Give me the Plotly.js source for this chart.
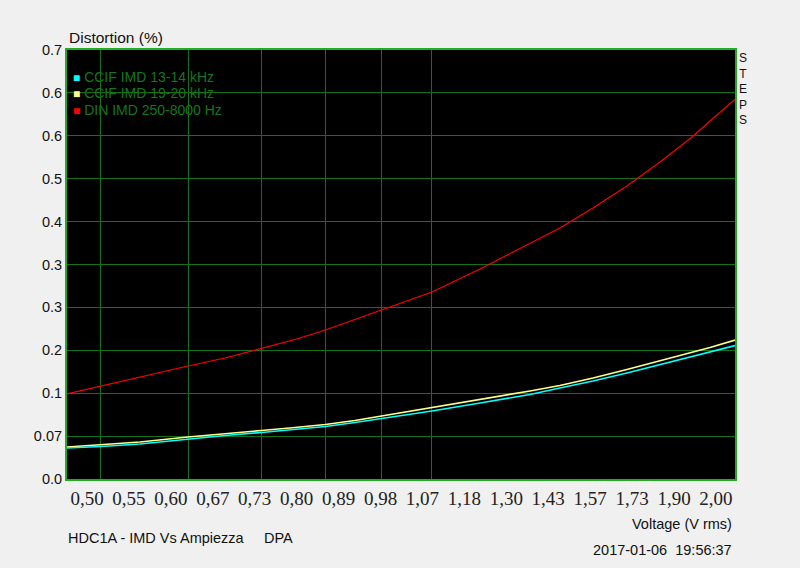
<!DOCTYPE html>
<html>
<head>
<meta charset="utf-8">
<script src="https://cdn.plot.ly/plotly-3.0.1.min.js"></script>
<style>html,body{margin:0;padding:0;background:#f0f0f0;}#chart{width:800px;height:568px;}</style>
</head>
<body>
<div id="chart"></div>
<script>
// ---- data ----
const seriesNames = ['CCIF IMD 13-14 kHz', 'CCIF IMD 19-20 kHz', 'DIN IMD 250-8000 Hz'];
const voltage = [0.4656, 0.5, 0.5425, 0.600, 0.6482, 0.7, 0.7506, 0.8, 0.851, 0.9, 1.0, 1.106, 1.228, 1.307, 1.401, 1.504, 1.612, 1.724, 1.790, 1.886];
const ccif1314 = [0.0506, 0.0530, 0.0571, 0.0653, 0.0710, 0.0759, 0.0808, 0.0857, 0.0922, 0.0987, 0.1110, 0.1240, 0.1379, 0.1485, 0.1599, 0.1730, 0.1865, 0.2007, 0.2077, 0.2178];
const ccif1920 = [0.0522, 0.0555, 0.0604, 0.0685, 0.0734, 0.0791, 0.0840, 0.0889, 0.0955, 0.1028, 0.1159, 0.1289, 0.1436, 0.1526, 0.1648, 0.1787, 0.1934, 0.2064, 0.2146, 0.2268];
const dinImd = [0.1387, 0.1517, 0.1664, 0.1844, 0.1974, 0.2129, 0.2276, 0.2431, 0.2603, 0.2758, 0.3051, 0.3427, 0.3843, 0.4096, 0.4422, 0.4781, 0.5172, 0.5580, 0.5841, 0.6192];
const seriesColors = ['#00ffff', '#ffff88', '#ff0000'];
const xGridVals = [0.5, 0.6, 0.7, 0.8, 0.9, 1.0];
const xTickText = ['0,50','0,55','0,60','0,67','0,73','0,80','0,89','0,98','1,07','1,18','1,30','1,43','1,57','1,73','1,90','2,00'];
const yTickVals = [0, 0.07, 0.14, 0.21, 0.28, 0.35, 0.42, 0.49, 0.56, 0.63, 0.70];
const yTickText = ['0.0','0.07','0.1','0.2','0.3','0.3','0.4','0.5','0.6','0.6','0.7'];
const sideLabel = ['S','T','E','P','S'];

// ---- layout helpers ----
const L = 67, R = 735, T = 50, B = 479, W = 800, H = 568;
const px = x => (x - L) / (R - L);
const py = y => (B - y) / (B - T);
const SANS = 'Liberation Sans, Arial, sans-serif';
const GRID = '#137313';
const BORDER = '#20ae20';

const idx = xTickText.map((_, i) => i);
const step = 41.93;

const traces = [
  {x: voltage, y: dinImd, name: seriesNames[2], mode: 'lines', line: {color: seriesColors[2], width: 1.2}},
  {x: voltage, y: ccif1920, name: seriesNames[1], mode: 'lines', line: {color: seriesColors[1], width: 1.7}},
  {x: voltage, y: ccif1314, name: seriesNames[0], mode: 'lines', line: {color: seriesColors[0], width: 1.7}},
  // carrier for the evenly spaced category labels on the overlay axis (draws nothing)
  {x: idx, y: idx.map(() => null), xaxis: 'x2', yaxis: 'y', mode: 'lines', showlegend: false, hoverinfo: 'skip'}
];

const annotations = [];
const legY = [77, 93, 110];
[0, 1, 2].forEach(i => {
  annotations.push({
    xref: 'paper', yref: 'paper', x: px(71), y: py(legY[i]), xanchor: 'left', yanchor: 'middle', showarrow: false,
    text: `<span style="color:${seriesColors[i]};font-size:12px">■</span> ${seriesNames[i]}`,
    font: {family: SANS, size: 14, color: '#12781a'}
  });
});
annotations.push({xref: 'paper', yref: 'paper', x: px(743), y: py(89), xanchor: 'center', yanchor: 'middle',
  showarrow: false, text: sideLabel.join('<br>'), font: {family: SANS, size: 12, color: '#111'}});
annotations.push({xref: 'paper', yref: 'paper', x: px(734), y: py(524), xanchor: 'right', yanchor: 'middle', showarrow: false,
  text: 'Voltage (V rms)', font: {family: SANS, size: 14.5, color: '#111'}});
annotations.push({xref: 'paper', yref: 'paper', x: px(734), y: py(550), xanchor: 'right', yanchor: 'middle', showarrow: false,
  text: '2017-01-06&nbsp;&nbsp;19:56:37', font: {family: SANS, size: 14.5, color: '#111'}});
annotations.push({xref: 'paper', yref: 'paper', x: px(66), y: py(538), xanchor: 'left', yanchor: 'middle', showarrow: false,
  text: 'HDC1A - IMD Vs Ampiezza', font: {family: SANS, size: 14.5, color: '#111'}});
annotations.push({xref: 'paper', yref: 'paper', x: px(262), y: py(538), xanchor: 'left', yanchor: 'middle', showarrow: false,
  text: 'DPA', font: {family: SANS, size: 14.5, color: '#111'}});

const layout = {
  width: W, height: H,
  margin: {l: L, r: W - R, t: T, b: H - B, pad: 0},
  paper_bgcolor: '#f0f0f0', plot_bgcolor: '#000000',
  showlegend: false,
  title: {text: 'Distortion (%)', x: 69 / W, xanchor: 'left', xref: 'container', y: 1 - 38 / H, yanchor: 'middle', yref: 'container',
    font: {family: SANS, size: 15.5, color: '#111'}},
  xaxis: {
    type: 'log', range: [Math.log10(0.4657), Math.log10(1.886)],
    tickmode: 'array', tickvals: xGridVals, showticklabels: false, ticks: '',
    showgrid: true, gridcolor: GRID, gridwidth: 1, zeroline: false,
    showline: true, mirror: true, linecolor: BORDER, linewidth: 2, fixedrange: true
  },
  xaxis2: {
    overlaying: 'x', side: 'bottom', anchor: 'y', range: [(L - 87) / step, (R - 87) / step],
    tickmode: 'array', tickvals: idx, ticktext: xTickText, ticks: '', showgrid: false, zeroline: false, showline: false,
    ticklabelstandoff: 6,
    tickfont: {family: 'Liberation Serif, Times New Roman, serif', size: 19, color: '#222'}, fixedrange: true
  },
  yaxis: {
    range: [0, 0.7], tickmode: 'array', tickvals: yTickVals, ticktext: yTickText, ticks: '',
    showgrid: true, gridcolor: GRID, gridwidth: 1, zeroline: false,
    showline: true, mirror: true, linecolor: BORDER, linewidth: 2,
    tickfont: {family: SANS, size: 14.5, color: '#111'}, fixedrange: true
  },
  annotations: annotations
};

Plotly.newPlot('chart', traces, layout, {displayModeBar: false, staticPlot: true});
</script>
</body>
</html>
